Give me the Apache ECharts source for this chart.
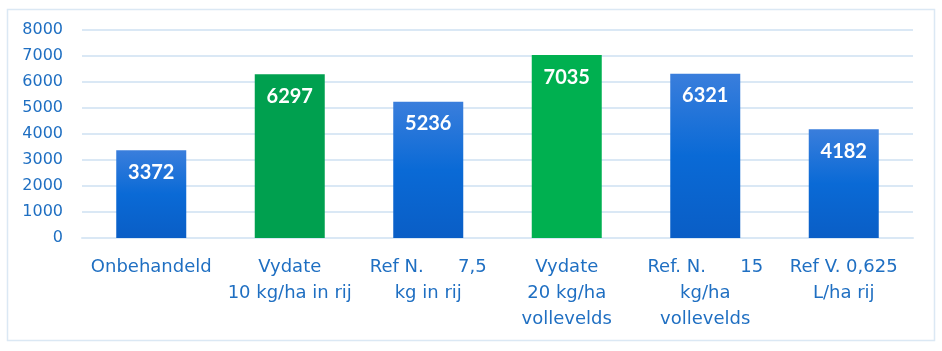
<!DOCTYPE html>
<html>
<head>
<meta charset="utf-8">
<script src="https://cdn.jsdelivr.net/npm/echarts@6/dist/echarts.min.js"></script>
<style>
  html, body { margin: 0; padding: 0; background: #fff; }
  #chart { width: 942px; height: 351px; }
</style>
</head>
<body>
<div id="chart"></div>
<script>
const categories = [
  'Onbehandeld',
  'Vydate\n10 kg/ha in rij',
  'Ref N.      7,5\nkg in rij',
  'Vydate\n20 kg/ha\nvollevelds',
  'Ref. N.      15\nkg/ha\nvollevelds',
  'Ref V. 0,625\nL/ha rij'
]
const values = [3372, 6297, 5236, 7035, 6321, 4182]
// welke staven groen zijn (Vydate)
const isGreen = [false, true, false, true, false, false]
const greenColors = ['#00a04f', '#00b050']

const blueGrad = new echarts.graphic.LinearGradient(0, 0, 0, 1, [
  {offset: 0, color: '#3a7edc'},
  {offset: 0.5, color: '#0a6ad6'},
  {offset: 1, color: '#0a5ec6'}
])

let g = 0
const barData = values.map((v, i) => {
  let color = blueGrad
  if (isGreen[i]) { color = greenColors[g % 2]; g++ }
  return {value: v, itemStyle: {color: color}}
})

const chart = echarts.init(document.getElementById('chart'))
chart.setOption({
  animation: false,
  grid: {left: 82, right: 29, top: 30, bottom: 113},
  graphic: [{
    type: 'rect',
    shape: {x: 7.5, y: 9.5, width: 927, height: 331},
    style: {fill: 'none', stroke: '#dbe8f4', lineWidth: 1.5},
    z: -1
  }],
  xAxis: {
    type: 'category',
    data: categories,
    axisLine: {show: true, lineStyle: {color: '#dae8f5', width: 2}},
    axisTick: {show: false},
    axisLabel: {
      color: '#1f6fc2',
      fontSize: 18,
      lineHeight: 26,
      margin: 16,
      interval: 0,
      fontFamily: 'DejaVu Sans'
    }
  },
  yAxis: {
    type: 'value',
    min: 0,
    max: 8000,
    interval: 1000,
    axisLine: {show: false},
    axisTick: {show: false},
    axisLabel: {
      color: '#1f6fc2',
      fontSize: 16,
      margin: 19,
      fontFamily: 'DejaVu Sans',
      formatter: v => String(v)
    },
    splitLine: {lineStyle: {color: '#dae8f5', width: 2}}
  },
  series: [{
    type: 'bar',
    barWidth: 70,
    data: barData,
    label: {
      show: true,
      position: 'insideTop',
      distance: 12,
      color: '#fff',
      fontSize: 20,
      fontWeight: 'bold',
      fontFamily: 'Lato'
    }
  }]
})
</script>
</body>
</html>
